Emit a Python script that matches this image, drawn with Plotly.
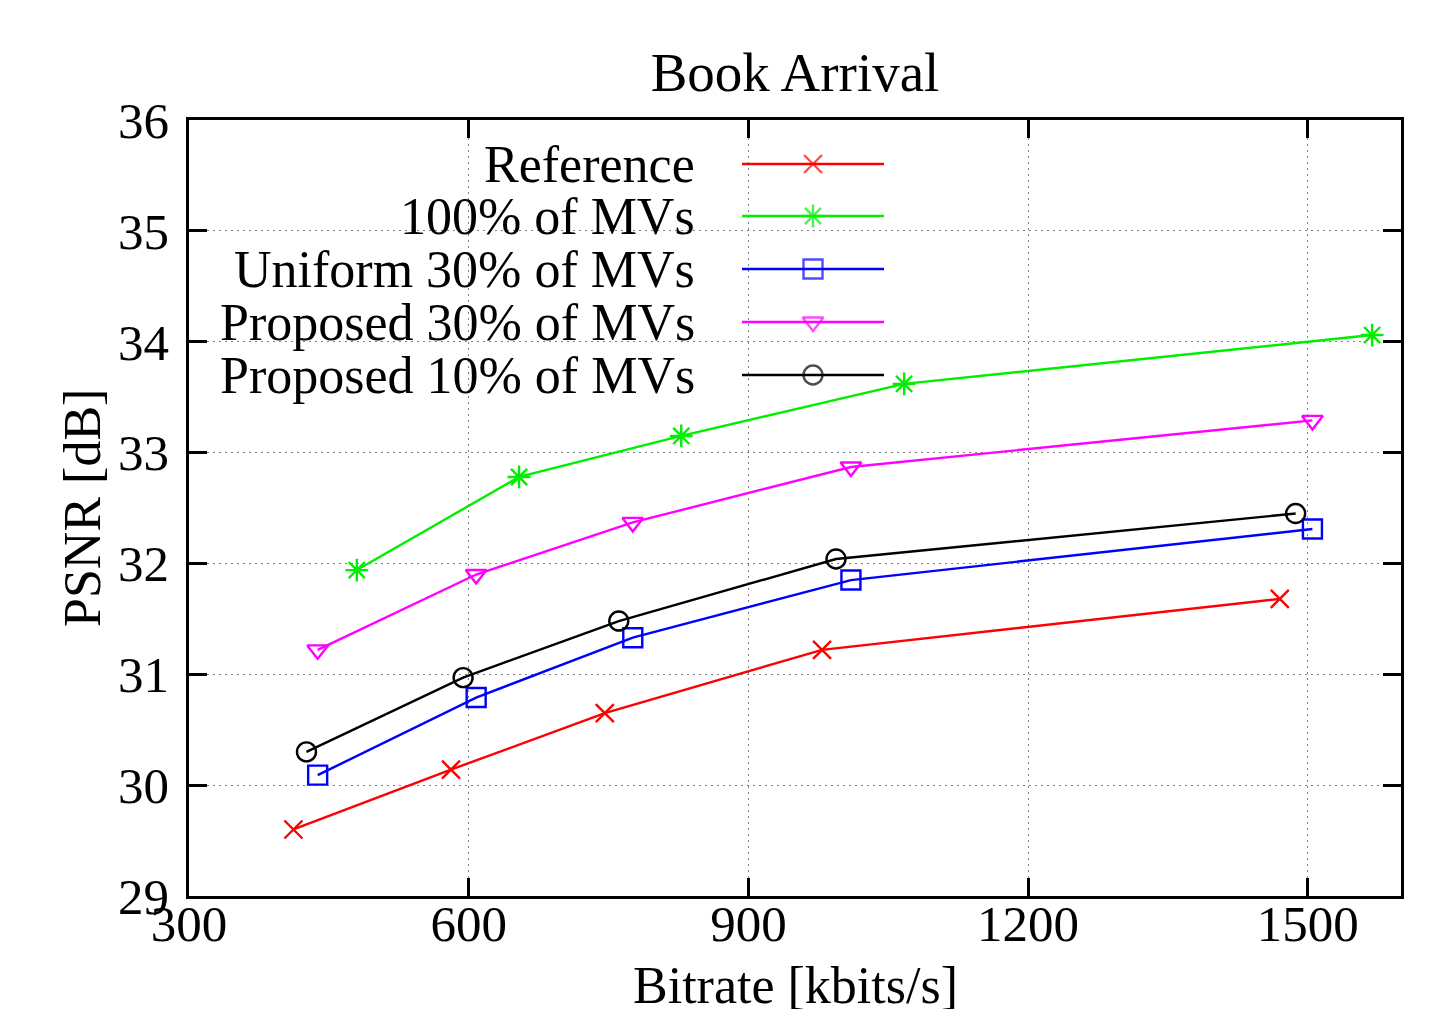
import plotly.graph_objects as go

# ---- data ----
series_names = ["Reference", "100% of MVs", "Uniform 30% of MVs",
                "Proposed 30% of MVs", "Proposed 10% of MVs"]
ref_x = [412, 581, 746, 979, 1470]
ref_y = [29.60, 30.14, 30.65, 31.22, 31.68]
mv100_x = [480, 654, 828, 1067, 1569]
mv100_y = [31.94, 32.78, 33.15, 33.62, 34.06]
uni30_x = [438, 608, 776, 1010, 1505]
uni30_y = [30.09, 30.79, 31.33, 31.85, 32.31]
prop30_x = [438, 608, 776, 1010, 1505]
prop30_y = [31.22, 31.90, 32.37, 32.87, 33.29]
prop10_x = [426, 594, 761, 994, 1487]
prop10_y = [30.30, 30.97, 31.48, 32.04, 32.45]

x_ticks = [300, 600, 900, 1200, 1500]
y_ticks = [29, 30, 31, 32, 33, 34, 35, 36]

colors = ["#ff0000", "#00ee00", "#0000ff", "#ff00ff", "#000000"]
symbols = ["x-thin-open", "asterisk-open", "square-open", "triangle-down-open", "circle-open"]
sizes = [18, 19, 19, 18, 19]

FONT = "Liberation Serif"
FS = 51

# page body has an 8px margin; build the figure so it lands at page coords
OFF = 8
FIG_W, FIG_H = 1433 - OFF, 1009 - OFF

fig = go.Figure()
all_x = [ref_x, mv100_x, uni30_x, prop30_x, prop10_x]
all_y = [ref_y, mv100_y, uni30_y, prop30_y, prop10_y]
for name, xs, ys, c, s, sz in zip(series_names, all_x, all_y, colors, symbols, sizes):
    fig.add_trace(go.Scatter(
        x=xs, y=ys, name=name, mode="lines+markers",
        line=dict(color=c, width=2.4),
        marker=dict(symbol=s, size=sz, color=c, line=dict(color=c, width=2.4)),
        showlegend=False, cliponaxis=False))

# plot area in page pixels
L, R = 189, 1401
T, B = 120, 896
W, H = R - L, B - T
def px(xp): return (xp - L) / W
def py(yp): return (B - yp) / H

# custom gnuplot-like legend (keys on overlay paper axes)
row_px = [164, 216, 269, 322, 375]
for name, c, s, sz, ry in zip(series_names, colors, symbols, sizes, row_px):
    yy = py(ry)
    fig.add_trace(go.Scatter(
        x=[px(742), px(813), px(884)], y=[yy, yy, yy],
        xaxis="x2", yaxis="y2", mode="lines+markers",
        line=dict(color=c, width=2.4),
        marker=dict(symbol=s, size=[0, sz, 0], color=c, line=dict(color=c, width=2.4)),
        showlegend=False, hoverinfo="skip"))
    fig.add_annotation(x=px(697), y=yy, xref="paper", yref="paper",
                       text=name, showarrow=False, xanchor="right", yanchor="middle",
                       font=dict(family=FONT, size=52, color="black"))

# white legend box hiding grid
fig.add_shape(type="rect", xref="paper", yref="paper",
              x0=0, x1=px(915), y0=py(405), y1=1,
              fillcolor="white", line=dict(width=0), layer="between")

axis_common = dict(
    showline=True, linecolor="black", linewidth=2.5, mirror="allticks",
    ticks="inside", ticklen=18, tickwidth=2.5, tickcolor="black",
    showgrid=True, gridcolor="#808080", gridwidth=1, griddash="2px,4px",
    zeroline=False,
    tickfont=dict(family=FONT, size=FS, color="black"),
)

fig.update_layout(
    width=FIG_W, height=FIG_H,
    margin=dict(l=L - OFF, r=1433 - R, t=T - OFF, b=1009 - B),
    paper_bgcolor="white", plot_bgcolor="white",
    title=dict(text="Book Arrival", x=px(795), xref="paper", xanchor="center",
               y=1 - (72 - OFF) / FIG_H, yref="container", yanchor="middle",
               font=dict(family=FONT, size=55, color="black")),
    xaxis=dict(range=[300, 1600], tickvals=x_ticks, ticktext=[str(v) for v in x_ticks],
               ticklabelstandoff=-19, **axis_common),
    yaxis=dict(range=[29, 36], tickvals=y_ticks, ticktext=[str(v) for v in y_ticks],
               ticklabelstandoff=7, **axis_common),
    xaxis2=dict(overlaying="x", range=[0, 1], visible=False, fixedrange=True),
    yaxis2=dict(overlaying="y", range=[0, 1], visible=False, fixedrange=True),
    showlegend=False,
)

# axis titles
fig.add_annotation(x=px(795), y=py(985), xref="paper", yref="paper",
                   text="Bitrate [kbits/s]", showarrow=False,
                   xanchor="center", yanchor="middle",
                   font=dict(family=FONT, size=52, color="black"))
fig.add_annotation(x=px(82), y=py(508), xref="paper", yref="paper",
                   text="PSNR [dB]", showarrow=False, textangle=-90,
                   xanchor="center", yanchor="middle",
                   font=dict(family=FONT, size=52, color="black"))

fig.write_html("out.html")
